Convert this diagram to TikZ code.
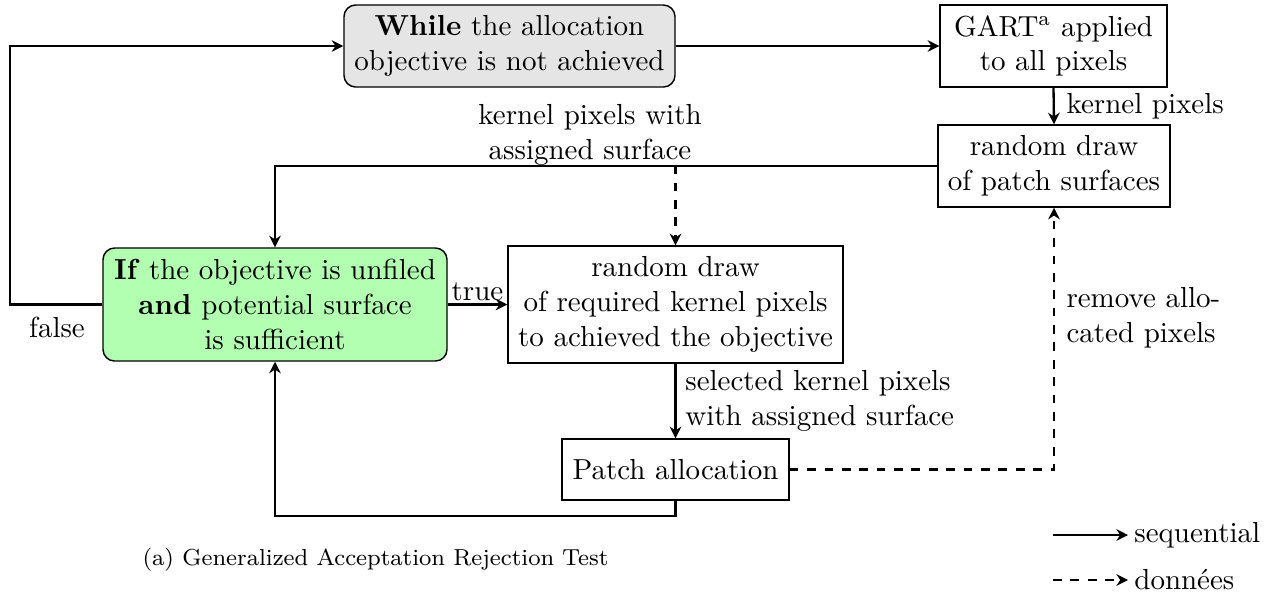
\documentclass[tikz,border=0pt]{standalone}
\usetikzlibrary{arrows.meta,positioning}
\newdimen\px \px=0.345pt
\begin{document}
\begin{tikzpicture}[x=0.345pt,y=-0.345pt,
  box/.style={draw, line width=0.5pt, align=center, inner sep=2pt},
  seq/.style={thick, -{Stealth[length=4pt,width=4pt]}},
  dat/.style={thick, dashed, -{Stealth[length=4pt,width=4pt]}},
  lbl/.style={inner sep=1pt, align=center}]
\useasboundingbox (0,0) rectangle (1278,605);
\node[box, rounded corners=4pt, fill=gray!20, minimum width=331\px, minimum height=82\px] (while) at (509.5,46) {\textbf{While} the allocation\\objective is not achieved};
\node[box, minimum width=227\px, minimum height=82\px] (gart) at (1053.5,46) {GART\textsuperscript{a} applied\\to all pixels};
\node[box, minimum width=232\px, minimum height=82\px] (surf) at (1054,166) {random draw\\of patch surfaces};
\node[box, rounded corners=4pt, fill=green!30, minimum width=344\px, minimum height=113\px] (if) at (275,304.5) {\textbf{If} the objective is unfiled\\\textbf{and} potential surface\\is sufficient};
\node[box, minimum width=335\px, minimum height=117\px] (req) at (675.5,304.5) {random draw\\of required kernel pixels\\to achieved the objective};
\node[box, minimum width=227\px, minimum height=61\px] (patch) at (675.5,469.5) {Patch allocation};

\coordinate (c1) at (10,304.5);
\coordinate (c2) at (10,46);
\coordinate (c3) at (275,166);
\coordinate (c4) at (675.5,166);
\coordinate (c5) at (675.5,516);
\coordinate (c6) at (275,516);
\coordinate (c7) at (1054,469.5);

\draw[seq] (while.east) -- (while.east -| gart.west);
\draw[seq] (gart.south) -- node[right, lbl, xshift=3pt] (lk) {kernel pixels} (surf.north);
\draw[seq] (surf.west) -- (c3) -- (if.north);
\draw[dat] (surf.west) -- (c4) -- (req.north);
\node[lbl] (lkas) at (590,135) {kernel pixels with\\assigned surface};
\draw[seq] (if.east) -- node[above, lbl] (ltrue) {true} (req.west |- if.east);
\draw[seq] (if.west) -- (c1) -- (c2) -- (while.west);
\node[lbl] (lfalse) at (57,327) {false};
\draw[seq] (req.south) -- node[right, lbl, align=left, xshift=2pt] (lsel) {selected kernel pixels\\with assigned surface} (patch.north);
\draw[seq] (patch.south) -- (c5) -- (c6) -- (if.south);
\draw[dat] (patch.east) -- (c7) -- (surf.south);
\node[lbl, anchor=west, align=left] (lrem) at (1063,318) {remove allo-\\cated pixels};

\node[anchor=west, inner sep=0pt, font=\footnotesize] (cap) at (142,560) {(a) Generalized Acceptation Rejection Test};

\coordinate (s1) at (1053,535);
\coordinate (s2) at (1128,535);
\coordinate (d1) at (1053,580);
\coordinate (d2) at (1128,580);
\draw[seq] (s1) -- (s2);
\draw[dat] (d1) -- (d2);
\node[anchor=west, inner sep=2pt] (lseq) at (s2) {sequential};
\node[anchor=west, inner sep=2pt] (ldon) at (d2) {données};
\end{tikzpicture}
\end{document}
